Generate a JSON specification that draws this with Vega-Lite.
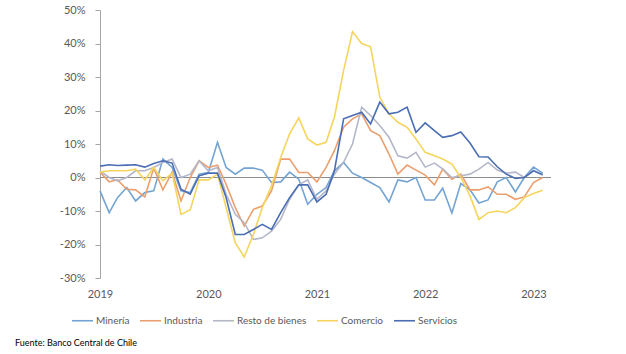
{
  "$schema": "https://vega.github.io/schema/vega-lite/v6.json",
  "autosize": {"type": "none"},
  "padding": {"left": 100, "top": 10, "right": 75, "bottom": 76},
  "width": 451,
  "height": 268,
  "background": "white",
  "config": {"view": {"stroke": null}, "font": "Lato", "axis": {"labelOverlap": false}},
  "title": {"text": "Fuente: Banco Central de Chile", "orient": "bottom", "anchor": "start", "frame": "group", "fontSize": 9, "fontWeight": "normal", "font": "Lato", "color": "#000000", "dx": -85, "offset": 13},
  "data": {
    "values": [
      {"fecha": "2019-01", "Minería": -4, "Industria": 1.6, "Resto de bienes": 2, "Comercio": 1.6, "Servicios": 3.4},
      {"fecha": "2019-02", "Minería": -10.5, "Industria": -1.3, "Resto de bienes": 0, "Comercio": 2, "Servicios": 3.8},
      {"fecha": "2019-03", "Minería": -6, "Industria": -0.7, "Resto de bienes": -1, "Comercio": 2, "Servicios": 3.6},
      {"fecha": "2019-04", "Minería": -3, "Industria": -3.5, "Resto de bienes": 0, "Comercio": 2, "Servicios": 3.7},
      {"fecha": "2019-05", "Minería": -7, "Industria": -3.7, "Resto de bienes": 2, "Comercio": 2.5, "Servicios": 3.8},
      {"fecha": "2019-06", "Minería": -4.5, "Industria": -5.8, "Resto de bienes": 2, "Comercio": -0.7, "Servicios": 3.1},
      {"fecha": "2019-07", "Minería": -4, "Industria": 2.8, "Resto de bienes": 3, "Comercio": 3, "Servicios": 4.2},
      {"fecha": "2019-08", "Minería": 5.5, "Industria": -3.7, "Resto de bienes": 4.5, "Comercio": -1, "Servicios": 5},
      {"fecha": "2019-09", "Minería": 3, "Industria": 1.6, "Resto de bienes": 5.5, "Comercio": 1.3, "Servicios": 4.3},
      {"fecha": "2019-10", "Minería": -4, "Industria": -7, "Resto de bienes": 0, "Comercio": -11, "Servicios": -3.5},
      {"fecha": "2019-11", "Minería": -4.5, "Industria": 0, "Resto de bienes": 1, "Comercio": -9.7, "Servicios": -5},
      {"fecha": "2019-12", "Minería": 1, "Industria": 5, "Resto de bienes": 5, "Comercio": -0.7, "Servicios": 0.5},
      {"fecha": "2020-01", "Minería": 1.5, "Industria": 3, "Resto de bienes": 2, "Comercio": -0.7, "Servicios": 1.3},
      {"fecha": "2020-02", "Minería": 10.5, "Industria": 3.7, "Resto de bienes": 3, "Comercio": 1, "Servicios": 1.3},
      {"fecha": "2020-03", "Minería": 3, "Industria": -2, "Resto de bienes": -5, "Comercio": -9, "Servicios": -6},
      {"fecha": "2020-04", "Minería": 1, "Industria": -9, "Resto de bienes": -11, "Comercio": -19.5, "Servicios": -17},
      {"fecha": "2020-05", "Minería": 2.8, "Industria": -14.5, "Resto de bienes": -13.5, "Comercio": -23.7, "Servicios": -17},
      {"fecha": "2020-06", "Minería": 2.8, "Industria": -9.5, "Resto de bienes": -18.5, "Comercio": -17, "Servicios": -15.5},
      {"fecha": "2020-07", "Minería": 2.2, "Industria": -8.5, "Resto de bienes": -18, "Comercio": -9, "Servicios": -14},
      {"fecha": "2020-08", "Minería": -1.5, "Industria": -4, "Resto de bienes": -16, "Comercio": -2.5, "Servicios": -15.5},
      {"fecha": "2020-09", "Minería": -1.3, "Industria": 5.5, "Resto de bienes": -12.5, "Comercio": 6, "Servicios": -10.5},
      {"fecha": "2020-10", "Minería": 1.6, "Industria": 5.5, "Resto de bienes": -6.5, "Comercio": 13, "Servicios": -6},
      {"fecha": "2020-11", "Minería": -0.5, "Industria": 1.5, "Resto de bienes": -2.2, "Comercio": 17.8, "Servicios": -2.2},
      {"fecha": "2020-12", "Minería": -8, "Industria": 1.5, "Resto de bienes": -0.7, "Comercio": 11.5, "Servicios": -2.2},
      {"fecha": "2021-01", "Minería": -5, "Industria": -1.3, "Resto de bienes": -6.5, "Comercio": 9.7, "Servicios": -7.3},
      {"fecha": "2021-02", "Minería": -3, "Industria": 3, "Resto de bienes": -4, "Comercio": 10.5, "Servicios": -5},
      {"fecha": "2021-03", "Minería": 2, "Industria": 8, "Resto de bienes": 1, "Comercio": 18, "Servicios": 2},
      {"fecha": "2021-04", "Minería": 4.5, "Industria": 15, "Resto de bienes": 4.5, "Comercio": 32, "Servicios": 17.5},
      {"fecha": "2021-05", "Minería": 1.3, "Industria": 17.5, "Resto de bienes": 10, "Comercio": 43.5, "Servicios": 18.5},
      {"fecha": "2021-06", "Minería": 0, "Industria": 19, "Resto de bienes": 21, "Comercio": 40, "Servicios": 19.5},
      {"fecha": "2021-07", "Minería": -1.5, "Industria": 14, "Resto de bienes": 18.5, "Comercio": 39, "Servicios": 16},
      {"fecha": "2021-08", "Minería": -3, "Industria": 12.5, "Resto de bienes": 15.5, "Comercio": 24, "Servicios": 22.5},
      {"fecha": "2021-09", "Minería": -7.3, "Industria": 7, "Resto de bienes": 12, "Comercio": 19, "Servicios": 19},
      {"fecha": "2021-10", "Minería": -0.7, "Industria": 1, "Resto de bienes": 6.5, "Comercio": 16.5, "Servicios": 19.5},
      {"fecha": "2021-11", "Minería": -1.3, "Industria": 3.7, "Resto de bienes": 5.8, "Comercio": 15, "Servicios": 21},
      {"fecha": "2021-12", "Minería": 0, "Industria": 2.2, "Resto de bienes": 7.5, "Comercio": 11.5, "Servicios": 13.5},
      {"fecha": "2022-01", "Minería": -6.7, "Industria": 0.7, "Resto de bienes": 3.1, "Comercio": 7.5, "Servicios": 16.3},
      {"fecha": "2022-02", "Minería": -6.7, "Industria": -2.2, "Resto de bienes": 4.3, "Comercio": 6.5, "Servicios": 14},
      {"fecha": "2022-03", "Minería": -3.2, "Industria": 2.5, "Resto de bienes": 2.6, "Comercio": 5.5, "Servicios": 12},
      {"fecha": "2022-04", "Minería": -10.6, "Industria": -0.5, "Resto de bienes": 0, "Comercio": 4, "Servicios": 12.5},
      {"fecha": "2022-05", "Minería": -1.8, "Industria": 1, "Resto de bienes": 0.5, "Comercio": 0, "Servicios": 13.6},
      {"fecha": "2022-06", "Minería": -3.7, "Industria": -3.7, "Resto de bienes": 1, "Comercio": -5.5, "Servicios": 10.3},
      {"fecha": "2022-07", "Minería": -7.6, "Industria": -3.7, "Resto de bienes": 2.5, "Comercio": -12.5, "Servicios": 6.2},
      {"fecha": "2022-08", "Minería": -6.7, "Industria": -2.8, "Resto de bienes": 4.5, "Comercio": -10.5, "Servicios": 6.1},
      {"fecha": "2022-09", "Minería": -1.3, "Industria": -5, "Resto de bienes": 2.2, "Comercio": -10, "Servicios": 3.2},
      {"fecha": "2022-10", "Minería": 0, "Industria": -5, "Resto de bienes": 1.3, "Comercio": -10.5, "Servicios": 1},
      {"fecha": "2022-11", "Minería": -4.3, "Industria": -6.5, "Resto de bienes": 1.6, "Comercio": -9, "Servicios": -0.3},
      {"fecha": "2022-12", "Minería": 0, "Industria": -5.8, "Resto de bienes": 0, "Comercio": -6, "Servicios": 0},
      {"fecha": "2023-01", "Minería": 3.1, "Industria": -1.5, "Resto de bienes": 2.2, "Comercio": -4.8, "Servicios": 2},
      {"fecha": "2023-02", "Minería": 1.3, "Industria": 0, "Resto de bienes": 0.7, "Comercio": -3.8, "Servicios": 0.8}
    ],
    "format": {"parse": {"fecha": "date:'%Y-%m'"}}
  },
  "layer": [
    {
      "mark": {"type": "rule", "color": "#8c8c8c", "strokeWidth": 1},
      "encoding": {"y": {"datum": 0, "type": "quantitative", "scale": {"domain": [-30, 50], "nice": false},
                   "axis": {"title": null, "grid": false, "values": [-30, -20, -10, 0, 10, 20, 30, 40, 50],
                   "labelExpr": "datum.value + '%'", "domainColor": "#a6a6a6", "tickColor": "#a6a6a6", "tickSize": 5,
                   "labelFont": "Lato", "labelFontSize": 11, "labelColor": "#595959", "labelPadding": 10, "labelOverlap": false}}}
    },
    {
      "transform": [{"fold": ["Minería", "Industria", "Resto de bienes", "Comercio", "Servicios"], "as": ["serie", "valor"]}],
      "mark": {"type": "line", "strokeWidth": 1.6},
      "encoding": {
        "x": {
          "field": "fecha", "type": "temporal",
          "scale": {"domain": [{"year": 2019, "month": 1, "date": 1}, {"year": 2023, "month": 3, "date": 1}]},
          "axis": {"title": null, "domain": false, "ticks": false, "grid": false, "format": "%Y",
                   "values": [{"year": 2019, "month": 1, "date": 1}, {"year": 2020, "month": 1, "date": 1}, {"year": 2021, "month": 1, "date": 1}, {"year": 2022, "month": 1, "date": 1}, {"year": 2023, "month": 1, "date": 1}],
                   "labelFont": "Lato", "labelFontSize": 11, "labelColor": "#595959", "labelPadding": 10, "labelAlign": "center", "labelFlush": false, "labelOverlap": false}
        },
        "y": {
          "field": "valor", "type": "quantitative",
          "scale": {"domain": [-30, 50], "nice": false},
          "axis": {"title": null, "grid": false, "values": [-30, -20, -10, 0, 10, 20, 30, 40, 50],
                   "labelExpr": "datum.value + '%'", "domainColor": "#a6a6a6", "tickColor": "#a6a6a6", "tickSize": 5,
                   "labelFont": "Lato", "labelFontSize": 11, "labelColor": "#595959", "labelPadding": 10, "labelOverlap": false}
        },
        "color": {
          "field": "serie", "type": "nominal",
          "scale": {"domain": ["Minería", "Industria", "Resto de bienes", "Comercio", "Servicios"],
                    "range": ["#74a4d3", "#eb9f6f", "#b3b7c9", "#f5d55e", "#4a6db3"]},
          "legend": {"title": null, "orient": "none", "direction": "horizontal", "legendX": -29, "legendY": 299,
                     "symbolType": "stroke", "symbolSize": 441, "symbolStrokeWidth": 1.6, "labelFont": "Lato",
                     "labelFontSize": 10, "labelColor": "#595959", "labelOffset": 2, "columnPadding": 6}
        }
      }
    }
  ]
}
